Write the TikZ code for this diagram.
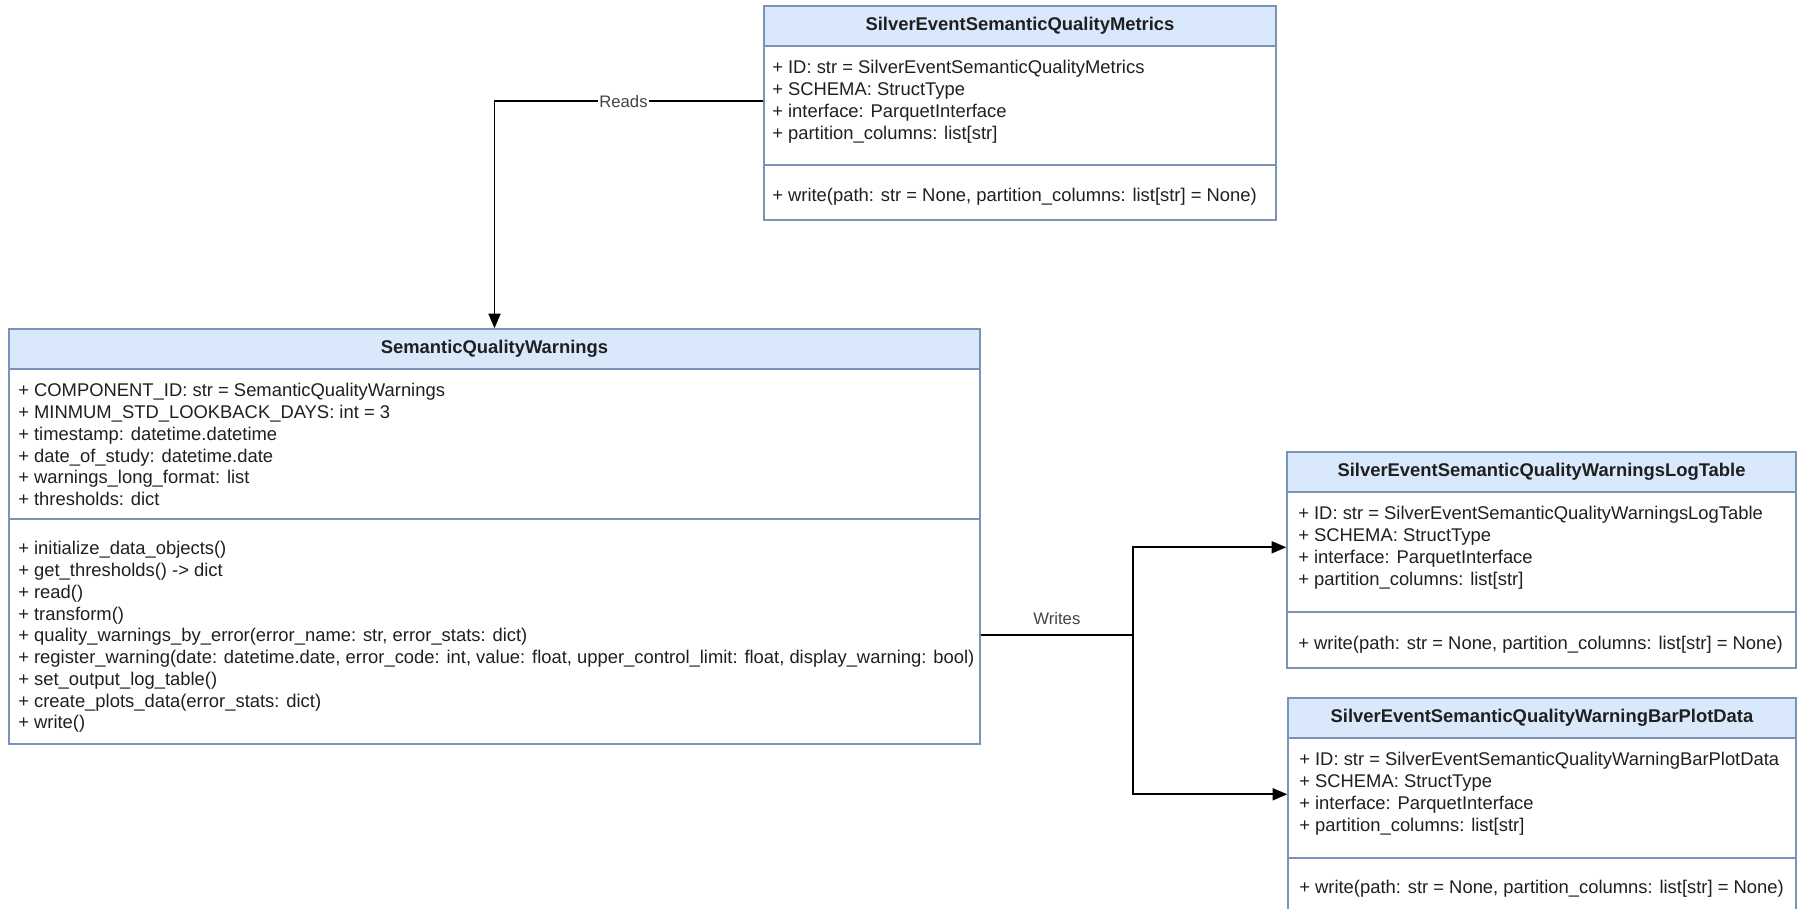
\documentclass[tikz,border=0pt]{standalone}
\usepackage{fontspec}
\setmainfont{Liberation Sans}
\usetikzlibrary{arrows.meta,fit,calc}
\definecolor{hdr}{HTML}{DAE8FC}
\definecolor{bord}{HTML}{7A93B8}
\definecolor{txt}{HTML}{1F1F1F}
\definecolor{lbl}{HTML}{444444}
\begin{document}
\begin{tikzpicture}[x=0.75pt,y=-0.75pt,
  frame/.style={draw=bord, line width=1.1pt, inner sep=0pt},
  header/.style={fill=hdr, draw=bord, line width=1.1pt, inner sep=0pt},
  title/.style={font=\fontsize{13.8pt}{16.3pt}\selectfont\bfseries, text=txt, inner sep=0pt},
  members/.style={font=\fontsize{13.8pt}{16.3pt}\selectfont, text=txt, align=left, anchor=north west, inner sep=0pt},
  sep/.style={draw=bord, line width=1.1pt},
  conn/.style={draw=black, line width=1.4pt},
  arr/.style={conn, -{Triangle[length=11pt,width=9pt]}},
  lab/.style={font=\fontsize{12.5pt}{15pt}\selectfont, text=lbl, inner sep=1pt}
]
\clip (0,0) rectangle (1801,908);

% ---------- SilverEventSemanticQualityMetrics ----------
\node[frame, fit={(764,6) (1276,220)}] (metrics) {};
\node[header, fit={(764,6) (1276,46)}] (metrics-h) {};
\node[title] (metrics-t) at (metrics-h.center) {SilverEventSemanticQualityMetrics};
\draw[sep] (764,165) -- (1276,165);
\node[members] (metrics-a) at (772,59) {\rule{0pt}{11pt}+ ID: str = SilverEventSemanticQualityMetrics\\+ SCHEMA: StructType\\+ interface: ParquetInterface\\+ partition\_columns: list[str]};
\node[members] (metrics-m) at (772,187) {\rule{0pt}{11pt}+ write(path: str = None, partition\_columns: list[str] = None)};

% ---------- SemanticQualityWarnings ----------
\node[frame, fit={(9,329) (980,744)}] (sqw) {};
\node[header, fit={(9,329) (980,369)}] (sqw-h) {};
\node[title] (sqw-t) at (sqw-h.center) {SemanticQualityWarnings};
\draw[sep] (9,519) -- (980,519);
\node[members] (sqw-a) at (18,382) {\rule{0pt}{11pt}+ COMPONENT\_ID: str = SemanticQualityWarnings\\+ MINMUM\_STD\_LOOKBACK\_DAYS: int = 3\\+ timestamp: datetime.datetime\\+ date\_of\_study: datetime.date\\+ warnings\_long\_format: list\\+ thresholds: dict};
\node[members] (sqw-m) at (18,540) {\rule{0pt}{11pt}+ initialize\_data\_objects()\\+ get\_thresholds() -> dict\\+ read()\\+ transform()\\+ quality\_warnings\_by\_error(error\_name: str, error\_stats: dict)\\+ register\_warning(date: datetime.date, error\_code: int, value: float, upper\_control\_limit: float, display\_warning: bool)\\+ set\_output\_log\_table()\\+ create\_plots\_data(error\_stats: dict)\\+ write()};

% ---------- SilverEventSemanticQualityWarningsLogTable ----------
\node[frame, fit={(1287,452) (1796,668)}] (logt) {};
\node[header, fit={(1287,452) (1796,492)}] (logt-h) {};
\node[title] (logt-t) at (logt-h.center) {SilverEventSemanticQualityWarningsLogTable};
\draw[sep] (1287,612) -- (1796,612);
\node[members] (logt-a) at (1298,505) {\rule{0pt}{11pt}+ ID: str = SilverEventSemanticQualityWarningsLogTable\\+ SCHEMA: StructType\\+ interface: ParquetInterface\\+ partition\_columns: list[str]};
\node[members] (logt-m) at (1298,635) {\rule{0pt}{11pt}+ write(path: str = None, partition\_columns: list[str] = None)};

% ---------- SilverEventSemanticQualityWarningBarPlotData ----------
\node[frame, fit={(1288,698) (1796,914)}] (barp) {};
\node[header, fit={(1288,698) (1796,738)}] (barp-h) {};
\node[title] (barp-t) at (barp-h.center) {SilverEventSemanticQualityWarningBarPlotData};
\draw[sep] (1288,858) -- (1796,858);
\node[members] (barp-a) at (1299,751) {\rule{0pt}{11pt}+ ID: str = SilverEventSemanticQualityWarningBarPlotData\\+ SCHEMA: StructType\\+ interface: ParquetInterface\\+ partition\_columns: list[str]};
\node[members] (barp-m) at (1299,879) {\rule{0pt}{11pt}+ write(path: str = None, partition\_columns: list[str] = None)};

% ---------- connectors ----------
\draw[arr] ($(metrics.north west)+(0,96)$) -| node[lab, fill=white, pos=0.26] (reads) {Reads} (sqw.north);

\coordinate (wj) at (1133,635);
\draw[conn] (sqw.east |- wj) -- node[lab, above=6pt] (writes) {Writes} (wj);
\draw[arr] (wj) |- ($(logt.north west)+(0,96)$);
\draw[arr] (wj) |- ($(barp.north west)+(0,97)$);
\end{tikzpicture}
\end{document}
